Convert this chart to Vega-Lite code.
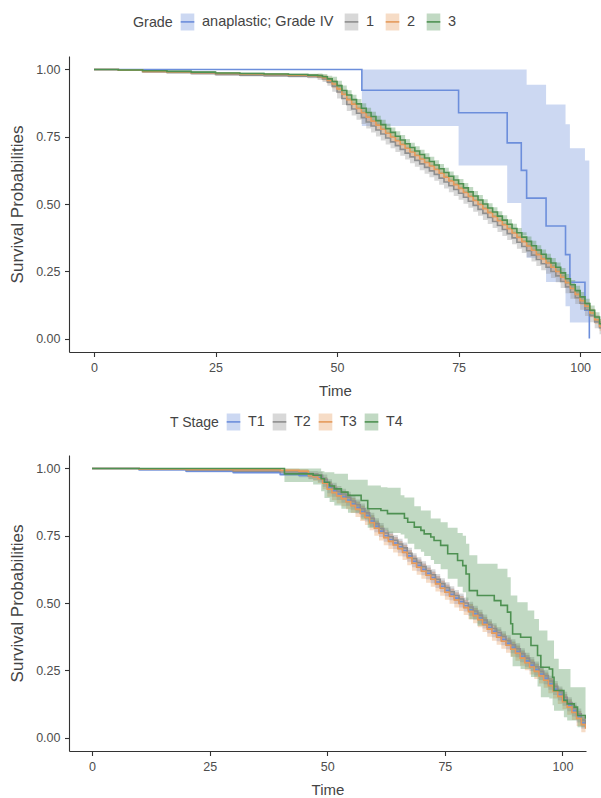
{
"$schema": "https://vega.github.io/schema/vega-lite/v6.json",
"padding": {"left": 8, "top": 12, "right": 0, "bottom": 0},
"spacing": 13,
"config": {
  "font": "Liberation Sans",
  "view": {"stroke": null},
  "axis": {"grid": false, "domainColor": "#333333", "domainWidth": 1.1, "tickColor": "#333333", "tickSize": 4.5, "tickWidth": 1.1, "labelFontSize": 12.5, "labelColor": "#4d4d4d", "labelPadding": 4.5, "titleFontSize": 15, "titleFontWeight": "normal", "titleColor": "#444444", "titlePadding": 10},
  "axisY": {"titleFontSize": 17, "titlePadding": 9}
},
"datasets": {
"grade": [
{"group":"anaplastic; Grade IV","time":0,"surv":1,"lo":1,"hi":1},
{"group":"anaplastic; Grade IV","time":55.1,"surv":0.923,"lo":0.79,"hi":1},
{"group":"anaplastic; Grade IV","time":75,"surv":0.839,"lo":0.643,"hi":1},
{"group":"anaplastic; Grade IV","time":85,"surv":0.727,"lo":0.504,"hi":1},
{"group":"anaplastic; Grade IV","time":87.9,"surv":0.625,"lo":0.385,"hi":1},
{"group":"anaplastic; Grade IV","time":89,"surv":0.522,"lo":0.3,"hi":0.943},
{"group":"anaplastic; Grade IV","time":93,"surv":0.418,"lo":0.21,"hi":0.87},
{"group":"anaplastic; Grade IV","time":97,"surv":0.312,"lo":0.12,"hi":0.796},
{"group":"anaplastic; Grade IV","time":97.9,"surv":0.209,"lo":0.06,"hi":0.707},
{"group":"anaplastic; Grade IV","time":101,"surv":0.105,"lo":0.06,"hi":0.662},
{"group":"anaplastic; Grade IV","time":101.9,"surv":0,"lo":0,"hi":0},
{"group":"1","time":0,"surv":1,"lo":1,"hi":1},
{"group":"1","time":5,"surv":0.997,"lo":0.994,"hi":1},
{"group":"1","time":10,"surv":0.992,"lo":0.987,"hi":0.997},
{"group":"1","time":15,"surv":0.989,"lo":0.984,"hi":0.994},
{"group":"1","time":20,"surv":0.985,"lo":0.98,"hi":0.99},
{"group":"1","time":25,"surv":0.981,"lo":0.976,"hi":0.986},
{"group":"1","time":30,"surv":0.979,"lo":0.974,"hi":0.984},
{"group":"1","time":35,"surv":0.977,"lo":0.972,"hi":0.982},
{"group":"1","time":40,"surv":0.975,"lo":0.97,"hi":0.98},
{"group":"1","time":44,"surv":0.973,"lo":0.967,"hi":0.979},
{"group":"1","time":46,"surv":0.971,"lo":0.961,"hi":0.981},
{"group":"1","time":47,"surv":0.965,"lo":0.953,"hi":0.977},
{"group":"1","time":48,"surv":0.953,"lo":0.939,"hi":0.967},
{"group":"1","time":49,"surv":0.937,"lo":0.917,"hi":0.957},
{"group":"1","time":50,"surv":0.916,"lo":0.892,"hi":0.94},
{"group":"1","time":51,"surv":0.892,"lo":0.868,"hi":0.916},
{"group":"1","time":52,"surv":0.87,"lo":0.846,"hi":0.894},
{"group":"1","time":53,"surv":0.853,"lo":0.829,"hi":0.877},
{"group":"1","time":54,"surv":0.837,"lo":0.813,"hi":0.861},
{"group":"1","time":55,"surv":0.821,"lo":0.797,"hi":0.845},
{"group":"1","time":56,"surv":0.805,"lo":0.781,"hi":0.829},
{"group":"1","time":57,"surv":0.79,"lo":0.766,"hi":0.814},
{"group":"1","time":58,"surv":0.775,"lo":0.751,"hi":0.799},
{"group":"1","time":59,"surv":0.76,"lo":0.736,"hi":0.784},
{"group":"1","time":60,"surv":0.745,"lo":0.721,"hi":0.769},
{"group":"1","time":61,"surv":0.731,"lo":0.707,"hi":0.755},
{"group":"1","time":62,"surv":0.717,"lo":0.693,"hi":0.741},
{"group":"1","time":63,"surv":0.703,"lo":0.679,"hi":0.727},
{"group":"1","time":64,"surv":0.689,"lo":0.665,"hi":0.713},
{"group":"1","time":65,"surv":0.675,"lo":0.651,"hi":0.699},
{"group":"1","time":66,"surv":0.662,"lo":0.638,"hi":0.686},
{"group":"1","time":67,"surv":0.649,"lo":0.625,"hi":0.673},
{"group":"1","time":68,"surv":0.636,"lo":0.612,"hi":0.66},
{"group":"1","time":69,"surv":0.623,"lo":0.599,"hi":0.647},
{"group":"1","time":70,"surv":0.61,"lo":0.586,"hi":0.634},
{"group":"1","time":71,"surv":0.596,"lo":0.572,"hi":0.62},
{"group":"1","time":72,"surv":0.582,"lo":0.558,"hi":0.606},
{"group":"1","time":73,"surv":0.568,"lo":0.544,"hi":0.592},
{"group":"1","time":74,"surv":0.554,"lo":0.53,"hi":0.578},
{"group":"1","time":75,"surv":0.54,"lo":0.516,"hi":0.564},
{"group":"1","time":76,"surv":0.525,"lo":0.501,"hi":0.549},
{"group":"1","time":77,"surv":0.51,"lo":0.486,"hi":0.534},
{"group":"1","time":78,"surv":0.495,"lo":0.471,"hi":0.519},
{"group":"1","time":79,"surv":0.48,"lo":0.456,"hi":0.504},
{"group":"1","time":80,"surv":0.465,"lo":0.441,"hi":0.489},
{"group":"1","time":81,"surv":0.45,"lo":0.426,"hi":0.474},
{"group":"1","time":82,"surv":0.435,"lo":0.411,"hi":0.459},
{"group":"1","time":83,"surv":0.42,"lo":0.396,"hi":0.444},
{"group":"1","time":84,"surv":0.405,"lo":0.381,"hi":0.429},
{"group":"1","time":85,"surv":0.39,"lo":0.366,"hi":0.414},
{"group":"1","time":86,"surv":0.374,"lo":0.35,"hi":0.398},
{"group":"1","time":87,"surv":0.358,"lo":0.334,"hi":0.382},
{"group":"1","time":88,"surv":0.342,"lo":0.318,"hi":0.366},
{"group":"1","time":89,"surv":0.326,"lo":0.302,"hi":0.35},
{"group":"1","time":90,"surv":0.31,"lo":0.286,"hi":0.334},
{"group":"1","time":91,"surv":0.294,"lo":0.27,"hi":0.318},
{"group":"1","time":92,"surv":0.278,"lo":0.254,"hi":0.302},
{"group":"1","time":93,"surv":0.265,"lo":0.241,"hi":0.289},
{"group":"1","time":94,"surv":0.249,"lo":0.225,"hi":0.273},
{"group":"1","time":95,"surv":0.233,"lo":0.209,"hi":0.257},
{"group":"1","time":96,"surv":0.212,"lo":0.188,"hi":0.236},
{"group":"1","time":97,"surv":0.192,"lo":0.168,"hi":0.216},
{"group":"1","time":98,"surv":0.172,"lo":0.148,"hi":0.196},
{"group":"1","time":99,"surv":0.152,"lo":0.128,"hi":0.176},
{"group":"1","time":100,"surv":0.131,"lo":0.107,"hi":0.155},
{"group":"1","time":101,"surv":0.108,"lo":0.084,"hi":0.132},
{"group":"1","time":102,"surv":0.085,"lo":0.061,"hi":0.109},
{"group":"1","time":103,"surv":0.062,"lo":0.038,"hi":0.086},
{"group":"1","time":104,"surv":0.04,"lo":0.016,"hi":0.064},
{"group":"1","time":104.5,"surv":0.029,"lo":0.005,"hi":0.053},
{"group":"2","time":0,"surv":1,"lo":1,"hi":1},
{"group":"2","time":5,"surv":0.997,"lo":0.995,"hi":0.999},
{"group":"2","time":10,"surv":0.993,"lo":0.989,"hi":0.997},
{"group":"2","time":15,"surv":0.991,"lo":0.987,"hi":0.995},
{"group":"2","time":20,"surv":0.988,"lo":0.984,"hi":0.992},
{"group":"2","time":25,"surv":0.985,"lo":0.981,"hi":0.989},
{"group":"2","time":30,"surv":0.983,"lo":0.979,"hi":0.987},
{"group":"2","time":35,"surv":0.981,"lo":0.977,"hi":0.985},
{"group":"2","time":40,"surv":0.979,"lo":0.975,"hi":0.983},
{"group":"2","time":44,"surv":0.977,"lo":0.972,"hi":0.982},
{"group":"2","time":46,"surv":0.974,"lo":0.966,"hi":0.982},
{"group":"2","time":47,"surv":0.969,"lo":0.959,"hi":0.979},
{"group":"2","time":48,"surv":0.959,"lo":0.947,"hi":0.971},
{"group":"2","time":49,"surv":0.946,"lo":0.93,"hi":0.962},
{"group":"2","time":50,"surv":0.928,"lo":0.912,"hi":0.944},
{"group":"2","time":51,"surv":0.908,"lo":0.892,"hi":0.924},
{"group":"2","time":52,"surv":0.888,"lo":0.872,"hi":0.904},
{"group":"2","time":53,"surv":0.871,"lo":0.855,"hi":0.887},
{"group":"2","time":54,"surv":0.855,"lo":0.839,"hi":0.871},
{"group":"2","time":55,"surv":0.839,"lo":0.823,"hi":0.855},
{"group":"2","time":56,"surv":0.823,"lo":0.807,"hi":0.839},
{"group":"2","time":57,"surv":0.808,"lo":0.792,"hi":0.824},
{"group":"2","time":58,"surv":0.793,"lo":0.777,"hi":0.809},
{"group":"2","time":59,"surv":0.778,"lo":0.762,"hi":0.794},
{"group":"2","time":60,"surv":0.763,"lo":0.747,"hi":0.779},
{"group":"2","time":61,"surv":0.749,"lo":0.733,"hi":0.765},
{"group":"2","time":62,"surv":0.735,"lo":0.719,"hi":0.751},
{"group":"2","time":63,"surv":0.721,"lo":0.705,"hi":0.737},
{"group":"2","time":64,"surv":0.707,"lo":0.691,"hi":0.723},
{"group":"2","time":65,"surv":0.693,"lo":0.677,"hi":0.709},
{"group":"2","time":66,"surv":0.68,"lo":0.664,"hi":0.696},
{"group":"2","time":67,"surv":0.667,"lo":0.651,"hi":0.683},
{"group":"2","time":68,"surv":0.654,"lo":0.638,"hi":0.67},
{"group":"2","time":69,"surv":0.641,"lo":0.625,"hi":0.657},
{"group":"2","time":70,"surv":0.628,"lo":0.612,"hi":0.644},
{"group":"2","time":71,"surv":0.614,"lo":0.598,"hi":0.63},
{"group":"2","time":72,"surv":0.6,"lo":0.584,"hi":0.616},
{"group":"2","time":73,"surv":0.586,"lo":0.57,"hi":0.602},
{"group":"2","time":74,"surv":0.572,"lo":0.556,"hi":0.588},
{"group":"2","time":75,"surv":0.558,"lo":0.542,"hi":0.574},
{"group":"2","time":76,"surv":0.543,"lo":0.527,"hi":0.559},
{"group":"2","time":77,"surv":0.528,"lo":0.512,"hi":0.544},
{"group":"2","time":78,"surv":0.513,"lo":0.497,"hi":0.529},
{"group":"2","time":79,"surv":0.498,"lo":0.482,"hi":0.514},
{"group":"2","time":80,"surv":0.483,"lo":0.467,"hi":0.499},
{"group":"2","time":81,"surv":0.468,"lo":0.452,"hi":0.484},
{"group":"2","time":82,"surv":0.453,"lo":0.437,"hi":0.469},
{"group":"2","time":83,"surv":0.438,"lo":0.422,"hi":0.454},
{"group":"2","time":84,"surv":0.423,"lo":0.407,"hi":0.439},
{"group":"2","time":85,"surv":0.408,"lo":0.392,"hi":0.424},
{"group":"2","time":86,"surv":0.392,"lo":0.376,"hi":0.408},
{"group":"2","time":87,"surv":0.376,"lo":0.36,"hi":0.392},
{"group":"2","time":88,"surv":0.36,"lo":0.344,"hi":0.376},
{"group":"2","time":89,"surv":0.344,"lo":0.328,"hi":0.36},
{"group":"2","time":90,"surv":0.328,"lo":0.312,"hi":0.344},
{"group":"2","time":91,"surv":0.312,"lo":0.296,"hi":0.328},
{"group":"2","time":92,"surv":0.296,"lo":0.28,"hi":0.312},
{"group":"2","time":93,"surv":0.281,"lo":0.265,"hi":0.297},
{"group":"2","time":94,"surv":0.265,"lo":0.249,"hi":0.281},
{"group":"2","time":95,"surv":0.249,"lo":0.233,"hi":0.265},
{"group":"2","time":96,"surv":0.228,"lo":0.212,"hi":0.244},
{"group":"2","time":97,"surv":0.208,"lo":0.192,"hi":0.224},
{"group":"2","time":98,"surv":0.186,"lo":0.17,"hi":0.202},
{"group":"2","time":99,"surv":0.164,"lo":0.148,"hi":0.18},
{"group":"2","time":100,"surv":0.141,"lo":0.125,"hi":0.157},
{"group":"2","time":101,"surv":0.12,"lo":0.104,"hi":0.136},
{"group":"2","time":102,"surv":0.095,"lo":0.079,"hi":0.111},
{"group":"2","time":103,"surv":0.07,"lo":0.054,"hi":0.086},
{"group":"2","time":104,"surv":0.045,"lo":0.029,"hi":0.061},
{"group":"2","time":104.5,"surv":0.032,"lo":0.016,"hi":0.048},
{"group":"3","time":0,"surv":1,"lo":1,"hi":1},
{"group":"3","time":5,"surv":0.998,"lo":0.996,"hi":1},
{"group":"3","time":10,"surv":0.995,"lo":0.991,"hi":0.999},
{"group":"3","time":15,"surv":0.993,"lo":0.989,"hi":0.997},
{"group":"3","time":20,"surv":0.99,"lo":0.986,"hi":0.994},
{"group":"3","time":25,"surv":0.987,"lo":0.983,"hi":0.991},
{"group":"3","time":30,"surv":0.985,"lo":0.981,"hi":0.989},
{"group":"3","time":35,"surv":0.983,"lo":0.979,"hi":0.987},
{"group":"3","time":40,"surv":0.981,"lo":0.977,"hi":0.985},
{"group":"3","time":44,"surv":0.979,"lo":0.974,"hi":0.984},
{"group":"3","time":46,"surv":0.977,"lo":0.969,"hi":0.985},
{"group":"3","time":47,"surv":0.973,"lo":0.963,"hi":0.983},
{"group":"3","time":48,"surv":0.965,"lo":0.953,"hi":0.977},
{"group":"3","time":49,"surv":0.955,"lo":0.937,"hi":0.973},
{"group":"3","time":50,"surv":0.94,"lo":0.922,"hi":0.958},
{"group":"3","time":51,"surv":0.922,"lo":0.904,"hi":0.94},
{"group":"3","time":52,"surv":0.905,"lo":0.887,"hi":0.923},
{"group":"3","time":53,"surv":0.888,"lo":0.87,"hi":0.906},
{"group":"3","time":54,"surv":0.872,"lo":0.854,"hi":0.89},
{"group":"3","time":55,"surv":0.856,"lo":0.838,"hi":0.874},
{"group":"3","time":56,"surv":0.84,"lo":0.822,"hi":0.858},
{"group":"3","time":57,"surv":0.825,"lo":0.807,"hi":0.843},
{"group":"3","time":58,"surv":0.81,"lo":0.792,"hi":0.828},
{"group":"3","time":59,"surv":0.795,"lo":0.777,"hi":0.813},
{"group":"3","time":60,"surv":0.78,"lo":0.762,"hi":0.798},
{"group":"3","time":61,"surv":0.766,"lo":0.748,"hi":0.784},
{"group":"3","time":62,"surv":0.752,"lo":0.734,"hi":0.77},
{"group":"3","time":63,"surv":0.738,"lo":0.72,"hi":0.756},
{"group":"3","time":64,"surv":0.724,"lo":0.706,"hi":0.742},
{"group":"3","time":65,"surv":0.71,"lo":0.692,"hi":0.728},
{"group":"3","time":66,"surv":0.697,"lo":0.679,"hi":0.715},
{"group":"3","time":67,"surv":0.684,"lo":0.666,"hi":0.702},
{"group":"3","time":68,"surv":0.671,"lo":0.653,"hi":0.689},
{"group":"3","time":69,"surv":0.658,"lo":0.64,"hi":0.676},
{"group":"3","time":70,"surv":0.645,"lo":0.627,"hi":0.663},
{"group":"3","time":71,"surv":0.631,"lo":0.613,"hi":0.649},
{"group":"3","time":72,"surv":0.617,"lo":0.599,"hi":0.635},
{"group":"3","time":73,"surv":0.603,"lo":0.585,"hi":0.621},
{"group":"3","time":74,"surv":0.589,"lo":0.571,"hi":0.607},
{"group":"3","time":75,"surv":0.575,"lo":0.557,"hi":0.593},
{"group":"3","time":76,"surv":0.56,"lo":0.542,"hi":0.578},
{"group":"3","time":77,"surv":0.545,"lo":0.527,"hi":0.563},
{"group":"3","time":78,"surv":0.53,"lo":0.512,"hi":0.548},
{"group":"3","time":79,"surv":0.515,"lo":0.497,"hi":0.533},
{"group":"3","time":80,"surv":0.5,"lo":0.482,"hi":0.518},
{"group":"3","time":81,"surv":0.485,"lo":0.467,"hi":0.503},
{"group":"3","time":82,"surv":0.47,"lo":0.452,"hi":0.488},
{"group":"3","time":83,"surv":0.455,"lo":0.437,"hi":0.473},
{"group":"3","time":84,"surv":0.44,"lo":0.422,"hi":0.458},
{"group":"3","time":85,"surv":0.425,"lo":0.407,"hi":0.443},
{"group":"3","time":86,"surv":0.409,"lo":0.391,"hi":0.427},
{"group":"3","time":87,"surv":0.393,"lo":0.375,"hi":0.411},
{"group":"3","time":88,"surv":0.377,"lo":0.359,"hi":0.395},
{"group":"3","time":89,"surv":0.361,"lo":0.343,"hi":0.379},
{"group":"3","time":90,"surv":0.345,"lo":0.327,"hi":0.363},
{"group":"3","time":91,"surv":0.329,"lo":0.311,"hi":0.347},
{"group":"3","time":92,"surv":0.313,"lo":0.295,"hi":0.331},
{"group":"3","time":93,"surv":0.297,"lo":0.279,"hi":0.315},
{"group":"3","time":94,"surv":0.281,"lo":0.263,"hi":0.299},
{"group":"3","time":95,"surv":0.265,"lo":0.247,"hi":0.283},
{"group":"3","time":96,"surv":0.244,"lo":0.226,"hi":0.262},
{"group":"3","time":97,"surv":0.222,"lo":0.204,"hi":0.24},
{"group":"3","time":98,"surv":0.2,"lo":0.182,"hi":0.218},
{"group":"3","time":99,"surv":0.178,"lo":0.16,"hi":0.196},
{"group":"3","time":100,"surv":0.155,"lo":0.137,"hi":0.173},
{"group":"3","time":101,"surv":0.13,"lo":0.112,"hi":0.148},
{"group":"3","time":102,"surv":0.105,"lo":0.087,"hi":0.123},
{"group":"3","time":103,"surv":0.08,"lo":0.062,"hi":0.098},
{"group":"3","time":104,"surv":0.055,"lo":0.037,"hi":0.073},
{"group":"3","time":104.5,"surv":0.042,"lo":0.024,"hi":0.06}
],
"tstage": [
{"group":"T1","time":0,"surv":1,"lo":1,"hi":1},
{"group":"T1","time":10,"surv":0.995,"lo":0.991,"hi":0.999},
{"group":"T1","time":20,"surv":0.99,"lo":0.985,"hi":0.995},
{"group":"T1","time":30,"surv":0.985,"lo":0.979,"hi":0.991},
{"group":"T1","time":40,"surv":0.978,"lo":0.972,"hi":0.984},
{"group":"T1","time":44,"surv":0.974,"lo":0.967,"hi":0.981},
{"group":"T1","time":46,"surv":0.971,"lo":0.961,"hi":0.981},
{"group":"T1","time":47,"surv":0.969,"lo":0.957,"hi":0.981},
{"group":"T1","time":48,"surv":0.965,"lo":0.951,"hi":0.979},
{"group":"T1","time":49,"surv":0.95,"lo":0.932,"hi":0.968},
{"group":"T1","time":50,"surv":0.93,"lo":0.908,"hi":0.952},
{"group":"T1","time":51,"surv":0.917,"lo":0.895,"hi":0.939},
{"group":"T1","time":52,"surv":0.905,"lo":0.883,"hi":0.927},
{"group":"T1","time":53,"surv":0.895,"lo":0.873,"hi":0.917},
{"group":"T1","time":54,"surv":0.883,"lo":0.861,"hi":0.905},
{"group":"T1","time":55,"surv":0.869,"lo":0.847,"hi":0.891},
{"group":"T1","time":56,"surv":0.855,"lo":0.833,"hi":0.877},
{"group":"T1","time":57,"surv":0.84,"lo":0.818,"hi":0.862},
{"group":"T1","time":58,"surv":0.825,"lo":0.803,"hi":0.847},
{"group":"T1","time":59,"surv":0.805,"lo":0.783,"hi":0.827},
{"group":"T1","time":60,"surv":0.785,"lo":0.763,"hi":0.807},
{"group":"T1","time":61,"surv":0.767,"lo":0.745,"hi":0.789},
{"group":"T1","time":62,"surv":0.75,"lo":0.728,"hi":0.772},
{"group":"T1","time":63,"surv":0.736,"lo":0.714,"hi":0.758},
{"group":"T1","time":64,"surv":0.723,"lo":0.701,"hi":0.745},
{"group":"T1","time":65,"surv":0.709,"lo":0.687,"hi":0.731},
{"group":"T1","time":66,"surv":0.695,"lo":0.673,"hi":0.717},
{"group":"T1","time":67,"surv":0.675,"lo":0.653,"hi":0.697},
{"group":"T1","time":68,"surv":0.655,"lo":0.633,"hi":0.677},
{"group":"T1","time":69,"surv":0.64,"lo":0.618,"hi":0.662},
{"group":"T1","time":70,"surv":0.625,"lo":0.603,"hi":0.647},
{"group":"T1","time":71,"surv":0.61,"lo":0.588,"hi":0.632},
{"group":"T1","time":72,"surv":0.595,"lo":0.573,"hi":0.617},
{"group":"T1","time":73,"surv":0.578,"lo":0.556,"hi":0.6},
{"group":"T1","time":74,"surv":0.562,"lo":0.54,"hi":0.584},
{"group":"T1","time":75,"surv":0.547,"lo":0.525,"hi":0.569},
{"group":"T1","time":76,"surv":0.532,"lo":0.51,"hi":0.554},
{"group":"T1","time":77,"surv":0.518,"lo":0.496,"hi":0.54},
{"group":"T1","time":78,"surv":0.505,"lo":0.483,"hi":0.527},
{"group":"T1","time":79,"surv":0.49,"lo":0.468,"hi":0.512},
{"group":"T1","time":80,"surv":0.475,"lo":0.453,"hi":0.497},
{"group":"T1","time":81,"surv":0.46,"lo":0.438,"hi":0.482},
{"group":"T1","time":82,"surv":0.445,"lo":0.423,"hi":0.467},
{"group":"T1","time":83,"surv":0.427,"lo":0.405,"hi":0.449},
{"group":"T1","time":84,"surv":0.41,"lo":0.388,"hi":0.432},
{"group":"T1","time":85,"surv":0.395,"lo":0.373,"hi":0.417},
{"group":"T1","time":86,"surv":0.38,"lo":0.358,"hi":0.402},
{"group":"T1","time":87,"surv":0.365,"lo":0.343,"hi":0.387},
{"group":"T1","time":88,"surv":0.35,"lo":0.328,"hi":0.372},
{"group":"T1","time":89,"surv":0.335,"lo":0.313,"hi":0.357},
{"group":"T1","time":90,"surv":0.32,"lo":0.298,"hi":0.342},
{"group":"T1","time":91,"surv":0.302,"lo":0.28,"hi":0.324},
{"group":"T1","time":92,"surv":0.285,"lo":0.263,"hi":0.307},
{"group":"T1","time":93,"surv":0.269,"lo":0.247,"hi":0.291},
{"group":"T1","time":94,"surv":0.253,"lo":0.231,"hi":0.275},
{"group":"T1","time":95,"surv":0.236,"lo":0.214,"hi":0.258},
{"group":"T1","time":96,"surv":0.22,"lo":0.198,"hi":0.242},
{"group":"T1","time":97,"surv":0.2,"lo":0.178,"hi":0.222},
{"group":"T1","time":98,"surv":0.18,"lo":0.158,"hi":0.202},
{"group":"T1","time":99,"surv":0.16,"lo":0.138,"hi":0.182},
{"group":"T1","time":100,"surv":0.14,"lo":0.118,"hi":0.162},
{"group":"T1","time":101,"surv":0.12,"lo":0.098,"hi":0.142},
{"group":"T1","time":102,"surv":0.1,"lo":0.078,"hi":0.122},
{"group":"T1","time":103,"surv":0.078,"lo":0.056,"hi":0.1},
{"group":"T1","time":104,"surv":0.055,"lo":0.033,"hi":0.077},
{"group":"T1","time":104.9,"surv":0.04,"lo":0.018,"hi":0.062},
{"group":"T2","time":0,"surv":1,"lo":1,"hi":1},
{"group":"T2","time":10,"surv":0.997,"lo":0.993,"hi":1},
{"group":"T2","time":20,"surv":0.994,"lo":0.989,"hi":0.999},
{"group":"T2","time":30,"surv":0.99,"lo":0.985,"hi":0.995},
{"group":"T2","time":40,"surv":0.987,"lo":0.981,"hi":0.993},
{"group":"T2","time":44,"surv":0.984,"lo":0.977,"hi":0.991},
{"group":"T2","time":46,"surv":0.981,"lo":0.971,"hi":0.991},
{"group":"T2","time":47,"surv":0.979,"lo":0.967,"hi":0.991},
{"group":"T2","time":48,"surv":0.975,"lo":0.961,"hi":0.989},
{"group":"T2","time":49,"surv":0.96,"lo":0.942,"hi":0.978},
{"group":"T2","time":50,"surv":0.94,"lo":0.92,"hi":0.96},
{"group":"T2","time":51,"surv":0.927,"lo":0.907,"hi":0.947},
{"group":"T2","time":52,"surv":0.915,"lo":0.895,"hi":0.935},
{"group":"T2","time":53,"surv":0.905,"lo":0.885,"hi":0.925},
{"group":"T2","time":54,"surv":0.893,"lo":0.873,"hi":0.913},
{"group":"T2","time":55,"surv":0.879,"lo":0.859,"hi":0.899},
{"group":"T2","time":56,"surv":0.865,"lo":0.845,"hi":0.885},
{"group":"T2","time":57,"surv":0.85,"lo":0.83,"hi":0.87},
{"group":"T2","time":58,"surv":0.835,"lo":0.815,"hi":0.855},
{"group":"T2","time":59,"surv":0.815,"lo":0.795,"hi":0.835},
{"group":"T2","time":60,"surv":0.795,"lo":0.775,"hi":0.815},
{"group":"T2","time":61,"surv":0.777,"lo":0.757,"hi":0.797},
{"group":"T2","time":62,"surv":0.76,"lo":0.74,"hi":0.78},
{"group":"T2","time":63,"surv":0.746,"lo":0.726,"hi":0.766},
{"group":"T2","time":64,"surv":0.733,"lo":0.713,"hi":0.753},
{"group":"T2","time":65,"surv":0.719,"lo":0.699,"hi":0.739},
{"group":"T2","time":66,"surv":0.705,"lo":0.685,"hi":0.725},
{"group":"T2","time":67,"surv":0.685,"lo":0.665,"hi":0.705},
{"group":"T2","time":68,"surv":0.665,"lo":0.645,"hi":0.685},
{"group":"T2","time":69,"surv":0.65,"lo":0.63,"hi":0.67},
{"group":"T2","time":70,"surv":0.635,"lo":0.615,"hi":0.655},
{"group":"T2","time":71,"surv":0.62,"lo":0.6,"hi":0.64},
{"group":"T2","time":72,"surv":0.605,"lo":0.585,"hi":0.625},
{"group":"T2","time":73,"surv":0.588,"lo":0.568,"hi":0.608},
{"group":"T2","time":74,"surv":0.572,"lo":0.552,"hi":0.592},
{"group":"T2","time":75,"surv":0.557,"lo":0.537,"hi":0.577},
{"group":"T2","time":76,"surv":0.542,"lo":0.522,"hi":0.562},
{"group":"T2","time":77,"surv":0.528,"lo":0.508,"hi":0.548},
{"group":"T2","time":78,"surv":0.515,"lo":0.495,"hi":0.535},
{"group":"T2","time":79,"surv":0.5,"lo":0.48,"hi":0.52},
{"group":"T2","time":80,"surv":0.485,"lo":0.465,"hi":0.505},
{"group":"T2","time":81,"surv":0.47,"lo":0.45,"hi":0.49},
{"group":"T2","time":82,"surv":0.455,"lo":0.435,"hi":0.475},
{"group":"T2","time":83,"surv":0.437,"lo":0.417,"hi":0.457},
{"group":"T2","time":84,"surv":0.42,"lo":0.4,"hi":0.44},
{"group":"T2","time":85,"surv":0.405,"lo":0.385,"hi":0.425},
{"group":"T2","time":86,"surv":0.39,"lo":0.37,"hi":0.41},
{"group":"T2","time":87,"surv":0.375,"lo":0.355,"hi":0.395},
{"group":"T2","time":88,"surv":0.36,"lo":0.34,"hi":0.38},
{"group":"T2","time":89,"surv":0.345,"lo":0.325,"hi":0.365},
{"group":"T2","time":90,"surv":0.33,"lo":0.31,"hi":0.35},
{"group":"T2","time":91,"surv":0.312,"lo":0.292,"hi":0.332},
{"group":"T2","time":92,"surv":0.295,"lo":0.275,"hi":0.315},
{"group":"T2","time":93,"surv":0.279,"lo":0.259,"hi":0.299},
{"group":"T2","time":94,"surv":0.263,"lo":0.243,"hi":0.283},
{"group":"T2","time":95,"surv":0.246,"lo":0.226,"hi":0.266},
{"group":"T2","time":96,"surv":0.23,"lo":0.21,"hi":0.25},
{"group":"T2","time":97,"surv":0.21,"lo":0.19,"hi":0.23},
{"group":"T2","time":98,"surv":0.19,"lo":0.17,"hi":0.21},
{"group":"T2","time":99,"surv":0.17,"lo":0.15,"hi":0.19},
{"group":"T2","time":100,"surv":0.15,"lo":0.13,"hi":0.17},
{"group":"T2","time":101,"surv":0.13,"lo":0.11,"hi":0.15},
{"group":"T2","time":102,"surv":0.11,"lo":0.09,"hi":0.13},
{"group":"T2","time":103,"surv":0.088,"lo":0.068,"hi":0.108},
{"group":"T2","time":104,"surv":0.065,"lo":0.045,"hi":0.085},
{"group":"T2","time":104.9,"surv":0.05,"lo":0.03,"hi":0.07},
{"group":"T3","time":0,"surv":1,"lo":1,"hi":1},
{"group":"T3","time":10,"surv":0.998,"lo":0.995,"hi":1},
{"group":"T3","time":20,"surv":0.996,"lo":0.992,"hi":1},
{"group":"T3","time":30,"surv":0.995,"lo":0.99,"hi":1},
{"group":"T3","time":40,"surv":0.993,"lo":0.987,"hi":0.999},
{"group":"T3","time":44,"surv":0.99,"lo":0.982,"hi":0.998},
{"group":"T3","time":46,"surv":0.972,"lo":0.96,"hi":0.984},
{"group":"T3","time":47,"surv":0.968,"lo":0.954,"hi":0.982},
{"group":"T3","time":48,"surv":0.962,"lo":0.946,"hi":0.978},
{"group":"T3","time":49,"surv":0.945,"lo":0.923,"hi":0.967},
{"group":"T3","time":50,"surv":0.923,"lo":0.895,"hi":0.951},
{"group":"T3","time":51,"surv":0.91,"lo":0.882,"hi":0.938},
{"group":"T3","time":52,"surv":0.898,"lo":0.87,"hi":0.926},
{"group":"T3","time":53,"surv":0.888,"lo":0.86,"hi":0.916},
{"group":"T3","time":54,"surv":0.876,"lo":0.848,"hi":0.904},
{"group":"T3","time":55,"surv":0.862,"lo":0.834,"hi":0.89},
{"group":"T3","time":56,"surv":0.848,"lo":0.82,"hi":0.876},
{"group":"T3","time":57,"surv":0.833,"lo":0.805,"hi":0.861},
{"group":"T3","time":58,"surv":0.818,"lo":0.79,"hi":0.846},
{"group":"T3","time":59,"surv":0.798,"lo":0.77,"hi":0.826},
{"group":"T3","time":60,"surv":0.778,"lo":0.75,"hi":0.806},
{"group":"T3","time":61,"surv":0.76,"lo":0.732,"hi":0.788},
{"group":"T3","time":62,"surv":0.743,"lo":0.715,"hi":0.771},
{"group":"T3","time":63,"surv":0.729,"lo":0.701,"hi":0.757},
{"group":"T3","time":64,"surv":0.716,"lo":0.688,"hi":0.744},
{"group":"T3","time":65,"surv":0.702,"lo":0.674,"hi":0.73},
{"group":"T3","time":66,"surv":0.688,"lo":0.66,"hi":0.716},
{"group":"T3","time":67,"surv":0.668,"lo":0.64,"hi":0.696},
{"group":"T3","time":68,"surv":0.648,"lo":0.62,"hi":0.676},
{"group":"T3","time":69,"surv":0.633,"lo":0.605,"hi":0.661},
{"group":"T3","time":70,"surv":0.618,"lo":0.59,"hi":0.646},
{"group":"T3","time":71,"surv":0.603,"lo":0.575,"hi":0.631},
{"group":"T3","time":72,"surv":0.588,"lo":0.56,"hi":0.616},
{"group":"T3","time":73,"surv":0.571,"lo":0.543,"hi":0.599},
{"group":"T3","time":74,"surv":0.555,"lo":0.527,"hi":0.583},
{"group":"T3","time":75,"surv":0.54,"lo":0.512,"hi":0.568},
{"group":"T3","time":76,"surv":0.525,"lo":0.497,"hi":0.553},
{"group":"T3","time":77,"surv":0.511,"lo":0.483,"hi":0.539},
{"group":"T3","time":78,"surv":0.498,"lo":0.47,"hi":0.526},
{"group":"T3","time":79,"surv":0.483,"lo":0.455,"hi":0.511},
{"group":"T3","time":80,"surv":0.468,"lo":0.44,"hi":0.496},
{"group":"T3","time":81,"surv":0.453,"lo":0.425,"hi":0.481},
{"group":"T3","time":82,"surv":0.438,"lo":0.41,"hi":0.466},
{"group":"T3","time":83,"surv":0.42,"lo":0.392,"hi":0.448},
{"group":"T3","time":84,"surv":0.403,"lo":0.375,"hi":0.431},
{"group":"T3","time":85,"surv":0.388,"lo":0.36,"hi":0.416},
{"group":"T3","time":86,"surv":0.373,"lo":0.345,"hi":0.401},
{"group":"T3","time":87,"surv":0.358,"lo":0.33,"hi":0.386},
{"group":"T3","time":88,"surv":0.343,"lo":0.315,"hi":0.371},
{"group":"T3","time":89,"surv":0.328,"lo":0.3,"hi":0.356},
{"group":"T3","time":90,"surv":0.313,"lo":0.285,"hi":0.341},
{"group":"T3","time":91,"surv":0.295,"lo":0.267,"hi":0.323},
{"group":"T3","time":92,"surv":0.278,"lo":0.25,"hi":0.306},
{"group":"T3","time":93,"surv":0.262,"lo":0.234,"hi":0.29},
{"group":"T3","time":94,"surv":0.246,"lo":0.218,"hi":0.274},
{"group":"T3","time":95,"surv":0.229,"lo":0.201,"hi":0.257},
{"group":"T3","time":96,"surv":0.213,"lo":0.185,"hi":0.241},
{"group":"T3","time":97,"surv":0.193,"lo":0.165,"hi":0.221},
{"group":"T3","time":98,"surv":0.173,"lo":0.145,"hi":0.201},
{"group":"T3","time":99,"surv":0.153,"lo":0.125,"hi":0.181},
{"group":"T3","time":100,"surv":0.133,"lo":0.105,"hi":0.161},
{"group":"T3","time":101,"surv":0.113,"lo":0.085,"hi":0.141},
{"group":"T3","time":102,"surv":0.093,"lo":0.065,"hi":0.121},
{"group":"T3","time":103,"surv":0.071,"lo":0.043,"hi":0.099},
{"group":"T3","time":104,"surv":0.048,"lo":0.02,"hi":0.076},
{"group":"T3","time":104.9,"surv":0.033,"lo":0.005,"hi":0.061},
{"group":"T4","time":0,"surv":1,"lo":1,"hi":1},
{"group":"T4","time":40.9,"surv":0.98,"lo":0.95,"hi":1},
{"group":"T4","time":47,"surv":0.975,"lo":0.94,"hi":1},
{"group":"T4","time":48.7,"surv":0.962,"lo":0.915,"hi":0.99},
{"group":"T4","time":49.4,"surv":0.949,"lo":0.89,"hi":0.986},
{"group":"T4","time":50.5,"surv":0.935,"lo":0.875,"hi":0.986},
{"group":"T4","time":51.5,"surv":0.924,"lo":0.862,"hi":0.98},
{"group":"T4","time":53,"surv":0.912,"lo":0.85,"hi":0.98},
{"group":"T4","time":54.4,"surv":0.9,"lo":0.835,"hi":0.958},
{"group":"T4","time":57.2,"surv":0.881,"lo":0.81,"hi":0.958},
{"group":"T4","time":58.6,"surv":0.85,"lo":0.78,"hi":0.937},
{"group":"T4","time":61.4,"surv":0.844,"lo":0.77,"hi":0.93},
{"group":"T4","time":62.8,"surv":0.832,"lo":0.76,"hi":0.928},
{"group":"T4","time":65.6,"surv":0.832,"lo":0.755,"hi":0.9},
{"group":"T4","time":66.4,"surv":0.815,"lo":0.74,"hi":0.892},
{"group":"T4","time":67.1,"surv":0.8,"lo":0.72,"hi":0.892},
{"group":"T4","time":68.5,"surv":0.782,"lo":0.7,"hi":0.86},
{"group":"T4","time":69.9,"surv":0.77,"lo":0.69,"hi":0.844},
{"group":"T4","time":70.6,"surv":0.757,"lo":0.675,"hi":0.844},
{"group":"T4","time":72,"surv":0.745,"lo":0.66,"hi":0.814},
{"group":"T4","time":72.7,"surv":0.732,"lo":0.645,"hi":0.814},
{"group":"T4","time":74.1,"surv":0.714,"lo":0.625,"hi":0.8},
{"group":"T4","time":75.6,"surv":0.683,"lo":0.59,"hi":0.78},
{"group":"T4","time":77.7,"surv":0.658,"lo":0.56,"hi":0.76},
{"group":"T4","time":78.8,"surv":0.639,"lo":0.54,"hi":0.75},
{"group":"T4","time":79.5,"surv":0.608,"lo":0.51,"hi":0.72},
{"group":"T4","time":80.2,"surv":0.546,"lo":0.44,"hi":0.677},
{"group":"T4","time":81.9,"surv":0.528,"lo":0.415,"hi":0.646},
{"group":"T4","time":85.5,"surv":0.509,"lo":0.395,"hi":0.646},
{"group":"T4","time":86.2,"surv":0.509,"lo":0.395,"hi":0.627},
{"group":"T4","time":86.9,"surv":0.491,"lo":0.375,"hi":0.627},
{"group":"T4","time":88.3,"surv":0.466,"lo":0.345,"hi":0.596},
{"group":"T4","time":89,"surv":0.423,"lo":0.3,"hi":0.528},
{"group":"T4","time":89.4,"surv":0.385,"lo":0.265,"hi":0.528},
{"group":"T4","time":90.4,"surv":0.385,"lo":0.265,"hi":0.503},
{"group":"T4","time":91.1,"surv":0.373,"lo":0.255,"hi":0.503},
{"group":"T4","time":92.6,"surv":0.373,"lo":0.255,"hi":0.472},
{"group":"T4","time":93.3,"surv":0.342,"lo":0.225,"hi":0.472},
{"group":"T4","time":94,"surv":0.342,"lo":0.225,"hi":0.441},
{"group":"T4","time":94.7,"surv":0.305,"lo":0.19,"hi":0.441},
{"group":"T4","time":95,"surv":0.305,"lo":0.19,"hi":0.398},
{"group":"T4","time":95.4,"surv":0.261,"lo":0.15,"hi":0.398},
{"group":"T4","time":96.8,"surv":0.261,"lo":0.15,"hi":0.361},
{"group":"T4","time":97.2,"surv":0.255,"lo":0.145,"hi":0.361},
{"group":"T4","time":97.9,"surv":0.224,"lo":0.12,"hi":0.361},
{"group":"T4","time":98.2,"surv":0.175,"lo":0.1,"hi":0.293},
{"group":"T4","time":99.2,"surv":0.175,"lo":0.1,"hi":0.255},
{"group":"T4","time":100.3,"surv":0.138,"lo":0.075,"hi":0.255},
{"group":"T4","time":101,"surv":0.125,"lo":0.063,"hi":0.255},
{"group":"T4","time":101.7,"surv":0.125,"lo":0.063,"hi":0.187},
{"group":"T4","time":102.5,"surv":0.113,"lo":0.063,"hi":0.187},
{"group":"T4","time":103.2,"surv":0.082,"lo":0.038,"hi":0.187},
{"group":"T4","time":104.9,"surv":0.07,"lo":0.038,"hi":0.187}
]
},
"vconcat": [
{
  "width": 532, "height": 296,
  "data": {"name": "grade"},
  "encoding": {
    "x": {"field": "time", "type": "quantitative", "scale": {"domain": [-5.15, 104.3], "nice": false, "zero": false}, "axis": {"title": "Time", "values": [0, 25, 50, 75, 100]}},
    "color": {"field": "group", "type": "nominal",
      "scale": {"domain": ["anaplastic; Grade IV", "1", "2", "3"], "range": ["#6C8EDB", "#8E8E8E", "#E59A5C", "#4E9152"]},
      "legend": {"orient": "none", "legendX": 64, "legendY": -44, "direction": "horizontal", "title": "Grade", "titleOrient": "left", "titleFontSize": 14.3, "titleFontWeight": "normal", "titleColor": "#444444", "titlePadding": 5, "labelFontSize": 14.5, "labelColor": "#444444", "labelOffset": 5, "columnPadding": 7, "symbolType": "M-0.8,0H0.8V1H-0.8V-1H0.8V0Z", "symbolSize": 289, "symbolStrokeWidth": 1.6, "symbolDash": [13.6, 80],
        "labelExpr": "datum.value == 'anaplastic; Grade IV' ? '\u00a0anaplastic; Grade IV' : datum.label",
        "encode": {"symbols": {"update": {
          "opacity": {"value": 1}, "fillOpacity": {"value": 0.35}, "strokeOpacity": {"value": 1},
          "fill": [{"test": "datum.value == '1'", "value": "#8E8E8E"}, {"test": "datum.value == '2'", "value": "#E59A5C"}, {"test": "datum.value == '3'", "value": "#4E9152"}, {"value": "#6C8EDB"}],
          "stroke": [{"test": "datum.value == '1'", "value": "#8E8E8E"}, {"test": "datum.value == '2'", "value": "#E59A5C"}, {"test": "datum.value == '3'", "value": "#4E9152"}, {"value": "#6C8EDB"}]
        }}}
      }
    }
  },
  "layer": [
    {"mark": {"type": "area", "interpolate": "step-after", "opacity": 0.35, "clip": true},
     "encoding": {"y": {"field": "lo", "type": "quantitative", "scale": {"domain": [-0.05, 1.05], "nice": false, "zero": false}, "axis": {"title": "Survival Probabilities", "values": [0, 0.25, 0.5, 0.75, 1], "format": ".2f"}}, "y2": {"field": "hi"}}},
    {"mark": {"type": "line", "interpolate": "step-after", "strokeWidth": 1.6, "clip": true},
     "encoding": {"y": {"field": "surv", "type": "quantitative", "axis": {"title": "Survival Probabilities", "values": [0, 0.25, 0.5, 0.75, 1], "format": ".2f"}}}}
  ]
},
{
  "width": 517, "height": 296,
  "data": {"name": "tstage"},
  "encoding": {
    "x": {"field": "time", "type": "quantitative", "scale": {"domain": [-4.9, 105], "nice": false, "zero": false}, "axis": {"title": "Time", "values": [0, 25, 50, 75, 100]}},
    "color": {"field": "group", "type": "nominal",
      "scale": {"domain": ["T1", "T2", "T3", "T4"], "range": ["#6C8EDB", "#8E8E8E", "#E59A5C", "#4E9152"]},
      "legend": {"orient": "none", "legendX": 101, "legendY": -43, "direction": "horizontal", "title": "T Stage", "titleOrient": "left", "titleFontSize": 14, "titleFontWeight": "normal", "titleColor": "#444444", "titlePadding": 4, "labelFontSize": 14.3, "labelColor": "#444444", "labelOffset": 5, "columnPadding": 4, "symbolType": "M-0.8,0H0.8V1H-0.8V-1H0.8V0Z", "symbolSize": 289, "symbolStrokeWidth": 1.6, "symbolDash": [13.6, 80],
        "encode": {"symbols": {"update": {
          "opacity": {"value": 1}, "fillOpacity": {"value": 0.35}, "strokeOpacity": {"value": 1},
          "fill": [{"test": "datum.value == 'T2'", "value": "#8E8E8E"}, {"test": "datum.value == 'T3'", "value": "#E59A5C"}, {"test": "datum.value == 'T4'", "value": "#4E9152"}, {"value": "#6C8EDB"}],
          "stroke": [{"test": "datum.value == 'T2'", "value": "#8E8E8E"}, {"test": "datum.value == 'T3'", "value": "#E59A5C"}, {"test": "datum.value == 'T4'", "value": "#4E9152"}, {"value": "#6C8EDB"}]
        }}}
      }
    }
  },
  "layer": [
    {"mark": {"type": "area", "interpolate": "step-after", "opacity": 0.35, "clip": true},
     "encoding": {"y": {"field": "lo", "type": "quantitative", "scale": {"domain": [-0.05, 1.05], "nice": false, "zero": false}, "axis": {"title": "Survival Probabilities", "values": [0, 0.25, 0.5, 0.75, 1], "format": ".2f"}}, "y2": {"field": "hi"}}},
    {"mark": {"type": "line", "interpolate": "step-after", "strokeWidth": 1.6, "clip": true},
     "encoding": {"y": {"field": "surv", "type": "quantitative", "axis": {"title": "Survival Probabilities", "values": [0, 0.25, 0.5, 0.75, 1], "format": ".2f"}}}}
  ]
}
],
"resolve": {"scale": {"color": "independent", "x": "independent", "y": "independent"}, "legend": {"color": "independent"}}
}
